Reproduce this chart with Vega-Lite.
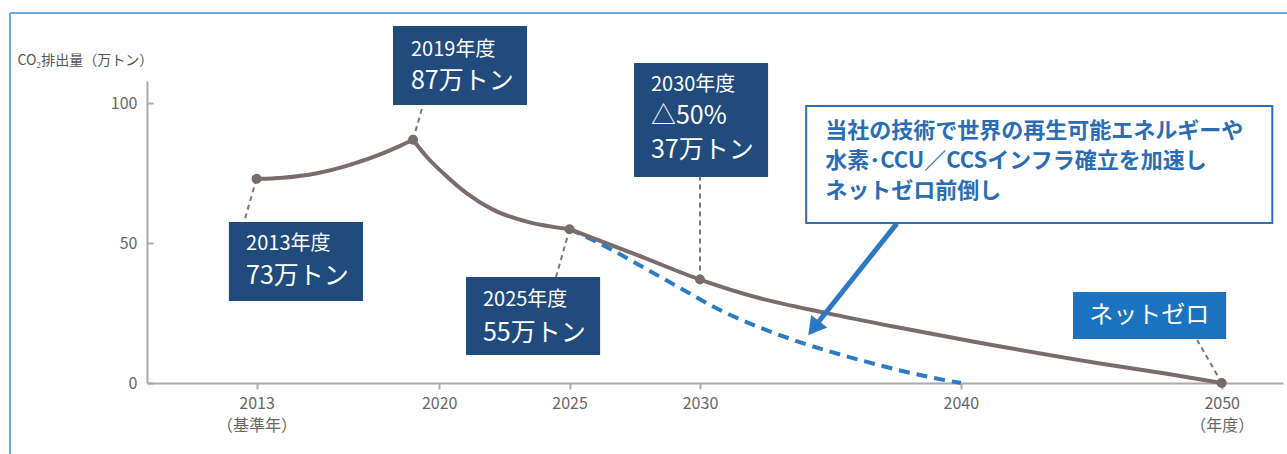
{
  "$schema": "https://vega.github.io/schema/vega-lite/v6.json",
  "width": 1136,
  "height": 302,
  "autosize": {"type": "none"},
  "padding": {"left": 147, "top": 81, "right": 4, "bottom": 71},
  "background": "white",
  "config": {
    "font": "Noto Sans CJK JP",
    "view": {"stroke": null},
    "axis": {"grid": false, "domainColor": "#aaaaaa", "domainWidth": 2, "tickColor": "#aaaaaa", "tickWidth": 2, "labelColor": "#666666", "labelFontSize": 16, "labelFont": "Noto Sans CJK JP"}
  },
  "datasets": {
    "frame": [
      {"x": 2003.55, "y": -25.4, "x2": 2003.55, "y2": 132.3},
      {"x": 2003.55, "y": 132.3, "x2": 2053, "y2": 132.3}
    ],
    "leaders": [
      {"x": 2013, "y": 73, "x2": 2012.52, "y2": 57.6},
      {"x": 2019, "y": 87, "x2": 2019.38, "y2": 99.4},
      {"x": 2025, "y": 55, "x2": 2024.48, "y2": 37.9},
      {"x": 2030, "y": 37, "x2": 2030, "y2": 73.7},
      {"x": 2050, "y": 0, "x2": 2049.06, "y2": 15.4}
    ],
    "main": [
      {"x": 2013, "y": 73, "s": "a"},
      {"x": 2014.01, "y": 73.4, "s": "a"},
      {"x": 2015.31, "y": 75.0, "s": "a"},
      {"x": 2016.58, "y": 78.0, "s": "a"},
      {"x": 2017.86, "y": 82.2, "s": "a"},
      {"x": 2018.5, "y": 84.8, "s": "a"},
      {"x": 2019, "y": 87, "s": "a"},
      {"x": 2019, "y": 87, "s": "b"},
      {"x": 2019.52, "y": 80.9, "s": "b"},
      {"x": 2020.16, "y": 75.0, "s": "b"},
      {"x": 2021.06, "y": 67.8, "s": "b"},
      {"x": 2022.08, "y": 61.9, "s": "b"},
      {"x": 2023.36, "y": 57.7, "s": "b"},
      {"x": 2025, "y": 55, "s": "b"},
      {"x": 2025, "y": 55, "s": "c"},
      {"x": 2027.58, "y": 45.8, "s": "c"},
      {"x": 2030, "y": 37, "s": "c"},
      {"x": 2032.3, "y": 30.3, "s": "c"},
      {"x": 2034.86, "y": 25.0, "s": "c"},
      {"x": 2037.41, "y": 20.2, "s": "c"},
      {"x": 2040.61, "y": 14.6, "s": "c"},
      {"x": 2045.34, "y": 7.0, "s": "c"},
      {"x": 2047.9, "y": 3.3, "s": "c"},
      {"x": 2050, "y": 0, "s": "c"}
    ],
    "dashed": [
      {"x": 2025, "y": 55},
      {"x": 2025.9, "y": 51.1},
      {"x": 2028.47, "y": 38.0},
      {"x": 2031.03, "y": 24.9},
      {"x": 2033.58, "y": 15.4},
      {"x": 2036.14, "y": 8.2},
      {"x": 2038.7, "y": 2.3},
      {"x": 2040, "y": 0}
    ],
    "dots": [
      {"x": 2013, "y": 73},
      {"x": 2019, "y": 87},
      {"x": 2025, "y": 55},
      {"x": 2030, "y": 37},
      {"x": 2050, "y": 0}
    ],
    "boxes": [
      {"x": 2011.94, "x2": 2017.08, "y": 57.6, "y2": 29.3},
      {"x": 2018.23, "x2": 2023.37, "y": 127.7, "y2": 99.4},
      {"x": 2021.03, "x2": 2026.17, "y": 37.9, "y2": 10.0},
      {"x": 2027.47, "x2": 2032.61, "y": 114.4, "y2": 73.7}
    ],
    "small": [
      {"x": 2012.6, "y": 49.6, "t": "2013年度"},
      {"x": 2018.92, "y": 119.1, "t": "2019年度"},
      {"x": 2021.68, "y": 29.7, "t": "2025年度"},
      {"x": 2028.12, "y": 106.6, "t": "2030年度"}
    ],
    "big": [
      {"x": 2012.6, "y": 38.2, "t": "73万トン"},
      {"x": 2018.92, "y": 108.0, "t": "87万トン"},
      {"x": 2021.68, "y": 17.9, "t": "55万トン"},
      {"x": 2028.12, "y": 95.6, "t": "△50%"},
      {"x": 2028.12, "y": 83.4, "t": "37万トン"}
    ],
    "callout": [
      {"x": 2034.07, "x2": 2051.94, "y": 99.1, "y2": 57.2}
    ],
    "calloutText": [
      {"x": 2034.8, "y": 90.1, "t": "当社の技術で世界の再生可能エネルギーや"},
      {"x": 2034.8, "y": 79.4, "t": "水素･CCU／CCSインフラ確立を加速し"},
      {"x": 2034.8, "y": 68.7, "t": "ネットゼロ前倒し"}
    ],
    "shaft": [
      {"x": 2037.55, "y": 57.1, "x2": 2034.4, "y2": 20.2}
    ],
    "head": [
      {"x": 2034.36, "y": 19.6}
    ],
    "netzero": [
      {"x": 2044.3, "x2": 2050.17, "y": 32.5, "y2": 15.7}
    ],
    "netzeroText": [
      {"x": 2047.22, "y": 24.0, "t": "ネットゼロ"}
    ]
  },
  "encoding": {
    "x": {
      "field": "x", "type": "quantitative",
      "scale": {"domain": [2008.8, 2052.35], "nice": false, "zero": false},
      "axis": {
        "title": null,
        "values": [2013, 2020, 2025, 2030, 2040, 2050],
        "format": "d",
        "labelExpr": "datum.value == 2013 ? ['2013', '（基準年）'] : datum.value == 2050 ? ['2050', '（年度）'] : datum.label",
        "tickSize": 6,
        "labelPadding": 6,
        "labelLineHeight": 22,
        "labelFlush": false,
        "labelOverlap": false
      }
    },
    "y": {
      "field": "y", "type": "quantitative",
      "scale": {"domain": [0, 108], "nice": false},
      "axis": {
        "title": "CO₂排出量（万トン）",
        "titleAngle": 0,
        "titleAlign": "left",
        "titleBaseline": "middle",
        "titleX": -130,
        "titleY": -21,
        "titleFontSize": 14,
        "titleFontWeight": "normal",
        "titleColor": "#555555",
        "titleFont": "Noto Sans CJK JP",
        "values": [0, 50, 100],
        "tickSize": -6,
        "labelPadding": 16
      }
    }
  },
  "layer": [
    {"data": {"name": "frame"}, "mark": {"type": "rule", "color": "#6aa5dc", "strokeWidth": 2}, "encoding": {"x2": {"field": "x2"}, "y2": {"field": "y2"}}},
    {"data": {"name": "leaders"}, "mark": {"type": "rule", "color": "#777777", "strokeWidth": 2, "strokeDash": [5, 4]}, "encoding": {"x2": {"field": "x2"}, "y2": {"field": "y2"}}},
    {"data": {"name": "dashed"}, "mark": {"type": "line", "color": "#2b7bc6", "strokeWidth": 4, "strokeDash": [11, 7], "interpolate": "monotone"}, "encoding": {}},
    {"data": {"name": "main"}, "mark": {"type": "line", "color": "#7a6c6c", "strokeWidth": 4, "interpolate": "monotone"}, "encoding": {"detail": {"field": "s"}}},
    {"data": {"name": "dots"}, "mark": {"type": "point", "filled": true, "color": "#7a6c6c", "size": 100, "opacity": 1}, "encoding": {}},
    {"data": {"name": "boxes"}, "mark": {"type": "rect", "color": "#214a7d"}, "encoding": {"x2": {"field": "x2"}, "y2": {"field": "y2"}}},
    {"data": {"name": "small"}, "mark": {"type": "text", "color": "white", "fontSize": 20, "align": "left", "baseline": "middle"}, "encoding": {"text": {"field": "t"}}},
    {"data": {"name": "big"}, "mark": {"type": "text", "color": "white", "fontSize": 25, "align": "left", "baseline": "middle"}, "encoding": {"text": {"field": "t"}}},
    {"data": {"name": "callout"}, "mark": {"type": "rect", "fill": "white", "stroke": "#2e6fb5", "strokeWidth": 2}, "encoding": {"x2": {"field": "x2"}, "y2": {"field": "y2"}}},
    {"data": {"name": "calloutText"}, "mark": {"type": "text", "color": "#2a6db4", "fontSize": 22, "fontWeight": "bold", "align": "left", "baseline": "middle"}, "encoding": {"text": {"field": "t"}}},
    {"data": {"name": "shaft"}, "mark": {"type": "rule", "color": "#2b78c4", "strokeWidth": 5}, "encoding": {"x2": {"field": "x2"}, "y2": {"field": "y2"}}},
    {"data": {"name": "head"}, "mark": {"type": "point", "shape": "triangle-up", "angle": 218, "filled": true, "color": "#2b78c4", "size": 420, "opacity": 1}, "encoding": {}},
    {"data": {"name": "netzero"}, "mark": {"type": "rect", "color": "#1b72be"}, "encoding": {"x2": {"field": "x2"}, "y2": {"field": "y2"}}},
    {"data": {"name": "netzeroText"}, "mark": {"type": "text", "color": "white", "fontSize": 24, "align": "center", "baseline": "middle"}, "encoding": {"text": {"field": "t"}}}
  ]
}
